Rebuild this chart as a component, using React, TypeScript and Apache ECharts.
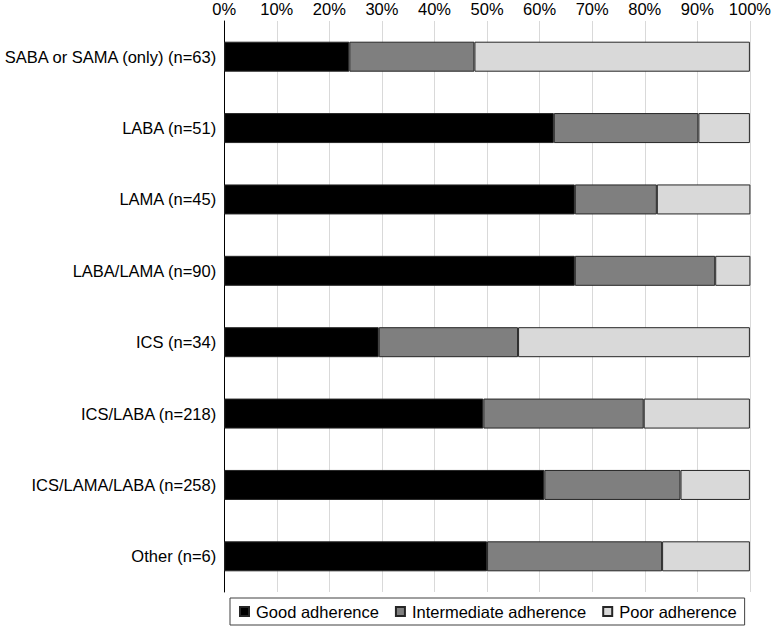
import React, { useEffect, useRef } from "react";
import * as echarts from "echarts";

const categories = [
  "SABA or SAMA (only) (n=63)",
  "LABA (n=51)",
  "LAMA (n=45)",
  "LABA/LAMA (n=90)",
  "ICS (n=34)",
  "ICS/LABA (n=218)",
  "ICS/LAMA/LABA (n=258)",
  "Other (n=6)",
];
const good = [23.8, 62.7, 66.7, 66.7, 29.4, 49.3, 60.9, 50.0];
const intermediate = [23.8, 27.5, 15.6, 26.7, 26.5, 30.5, 25.9, 33.3];
const poor = [52.4, 9.8, 17.8, 6.7, 44.1, 20.2, 13.2, 16.7];
const seriesNames = ["Good adherence", "Intermediate adherence", "Poor adherence"];
const colors = ["#000000", "#7f7f7f", "#d9d9d9"];

export default function App() {
  const ref = useRef<HTMLDivElement>(null);
  useEffect(() => {
    document.body.style.margin = "0";
    if (!ref.current) return;
    const chart = echarts.init(ref.current, null, { renderer: "svg" });
    const font = "'Liberation Sans', Arial, sans-serif";
    const fs = 16.5;
    const dataSets = [good, intermediate, poor];
    chart.setOption({
      animation: false,
      backgroundColor: "#ffffff",
      textStyle: { fontFamily: font },
      grid: { left: 222, right: 22, top: 21, bottom: 39, containLabel: false },
      xAxis: {
        type: "value",
        position: "top",
        min: 0,
        max: 100,
        interval: 10,
        axisLine: { show: false },
        axisTick: { show: false },
        axisLabel: {
          formatter: "{value}%",
          color: "#000",
          fontSize: fs,
          fontFamily: font,
          margin: 4,
        },
        splitLine: { show: true, lineStyle: { color: "#d9d9d9", width: 1 } },
      },
      yAxis: {
        type: "category",
        data: categories,
        inverse: true,
        axisLine: { show: true, lineStyle: { color: "#000", width: 1 } },
        axisTick: { show: false },
        axisLabel: { color: "#000", fontSize: fs, fontFamily: font, margin: 8 },
      },
      legend: {
        data: seriesNames,
        left: 230,
        top: 598,
        icon: "rect",
        itemWidth: 9,
        itemHeight: 9,
        itemGap: 16,
        padding: [5, 8, 5, 9],
        borderColor: "#404040",
        borderWidth: 1,
        textStyle: { color: "#000", fontSize: fs, fontFamily: font, padding: [0, 0, 0, 2] },
      },
      series: seriesNames.map((name, i) => ({
        name,
        type: "bar",
        stack: "total",
        data: dataSets[i],
        barWidth: 30,
        itemStyle: { color: colors[i], borderColor: "#262626", borderWidth: 1 },
        emphasis: { disabled: true },
      })),
    });
    return () => chart.dispose();
  }, []);
  return <div ref={ref} style={{ width: 774, height: 631 }} />;
}
